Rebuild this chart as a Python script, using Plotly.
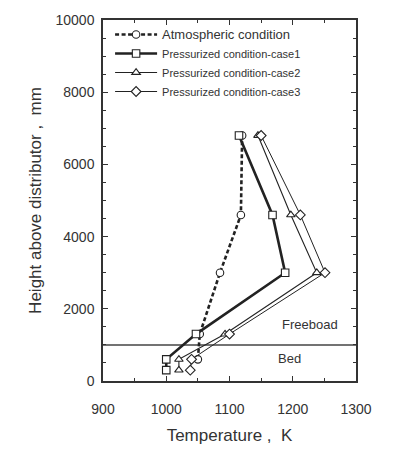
import plotly.graph_objects as go

# ---- data ----
atm_T = [1050, 1053, 1085, 1118, 1120]
atm_H = [600, 1300, 3000, 4600, 6800]

case1_T = [1000, 1000, 1047, 1188, 1168, 1115]
case1_H = [300, 600, 1300, 3000, 4600, 6800]

case2_T = [1020, 1020, 1093, 1238, 1197, 1145]
case2_H = [300, 600, 1300, 3000, 4600, 6800]

case3_T = [1038, 1040, 1100, 1251, 1212, 1150]
case3_H = [300, 600, 1300, 3000, 4600, 6800]

series_names = [
    '<span style="font-size:13px">Atmospheric condition</span>',
    'Pressurized condition-case1',
    'Pressurized condition-case2',
    'Pressurized condition-case3',
]

bed_height = 1000
x_ticks = [900, 1000, 1100, 1200, 1300]
x_labels = ['900', '1000', '1100', '1200', '1300']
y_ticks = [0, 2000, 4000, 6000, 8000, 10000]
y_labels = ['0', '2000', '4000', '6000', '8000', '10000']

INK = '#222222'
FONT = 'Liberation Sans, Arial, sans-serif'

fig = go.Figure()

def add(T, H, name, symbol, lw, dash='solid'):
    fig.add_trace(go.Scatter(
        x=T, y=H, name=name, mode='lines+markers',
        line=dict(color=INK, width=lw, dash=dash),
        marker=dict(symbol=symbol, size=7.5, color='white',
                    line=dict(color=INK, width=1.1)),
    ))

add(atm_T, atm_H, series_names[0], 'circle', 2.6, dash='4px,2.5px')
add(case1_T, case1_H, series_names[1], 'square', 2.6)
add(case2_T, case2_H, series_names[2], 'triangle-up', 1.1)
add(case3_T, case3_H, series_names[3], 'diamond', 1.0)

# bed / freeboard boundary line
fig.add_shape(type='line', xref='paper', x0=0, x1=1, yref='y',
              y0=bed_height, y1=bed_height,
              line=dict(color='#444444', width=1.5), layer='below')

fig.add_annotation(x=1227, y=1560, text='Freeboad', showarrow=False,
                   font=dict(size=13, color='#333333', family=FONT))
fig.add_annotation(x=1195, y=610, text='Bed', showarrow=False,
                   font=dict(size=13, color='#333333', family=FONT))

axis_common = dict(
    showline=True, linecolor='#333333', linewidth=1.5, mirror='ticks',
    ticks='inside', ticklen=5, tickwidth=1.2, tickcolor='#333333',
    showgrid=False, zeroline=False,
    tickfont=dict(size=14, color='#333333', family=FONT),
)

fig.update_xaxes(range=[900, 1300], tickvals=x_ticks, ticktext=x_labels,
                 minor=dict(dtick=50, ticks='inside', ticklen=3, tickcolor='#333333', showgrid=False),
                 title=dict(text='Temperature\u00a0,\u00a0\u00a0K', standoff=14,
                            font=dict(size=17, color='#333333', family=FONT)),
                 ticklabelstandoff=14,
                 **axis_common)
fig.update_yaxes(range=[0, 10000], tickvals=y_ticks, ticktext=y_labels,
                 minor=dict(dtick=500, ticks='inside', ticklen=3, tickcolor='#333333', showgrid=False),
                 title=dict(text='Height above distributor\u00a0,\u00a0\u00a0mm', standoff=10,
                            font=dict(size=17, color='#333333', family=FONT)),
                 ticklabelstandoff=4,
                 **axis_common)

fig.update_layout(
    width=402, height=454,
    margin=dict(l=102.5, r=46, t=14, b=63, pad=0),
    paper_bgcolor='white', plot_bgcolor='white',
    font=dict(family=FONT, color='#333333'),
    legend=dict(x=0.028, y=1.0, xanchor='left', yanchor='top',
                bgcolor='rgba(0,0,0,0)', font=dict(size=11, color='#333333', family=FONT),
                itemwidth=42, tracegroupgap=0),
    showlegend=True,
)

fig.write_html('out.html')
